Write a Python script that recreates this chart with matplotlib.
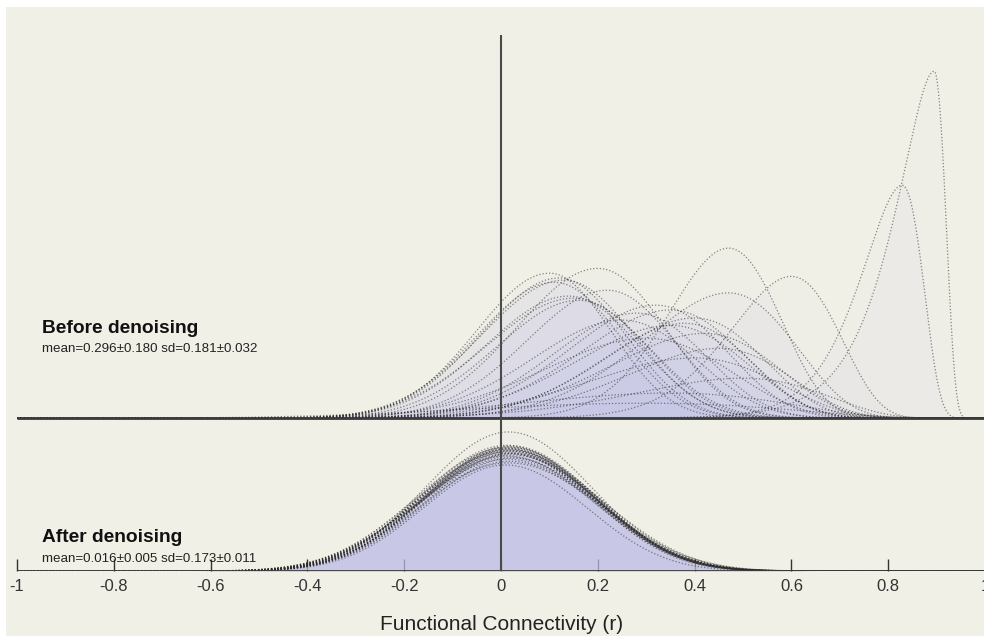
import numpy as np
import matplotlib
matplotlib.use("Agg")
import matplotlib.pyplot as plt

plt.rcParams["font.family"] = ["Liberation Sans", "DejaVu Sans"]

# Per-subject connectivity distributions: peak r, spread (Fisher z) left/right of peak, peak height
before_peak_r = [0.895, 0.829, 0.47, 0.60, 0.47, 0.20, 0.12, 0.13, 0.11, 0.14,
                 0.15, 0.16, 0.32, 0.35, 0.28, 0.40, 0.38, 0.25, 0.35, 0.42,
                 0.30, 0.45, 0.40, 0.50, 0.35, 0.30, 0.22, 0.10]
before_sd_left = [0.30, 0.226, 0.15, 0.18, 0.21, 0.17, 0.16, 0.17, 0.16, 0.17,
                  0.18, 0.17, 0.19, 0.20, 0.18, 0.20, 0.19, 0.19, 0.21, 0.22,
                  0.22, 0.22, 0.24, 0.27, 0.32, 0.37, 0.17, 0.15]
before_sd_right = [0.132, 0.154, 0.145, 0.17, 0.19, 0.15, 0.14, 0.15, 0.14, 0.15,
                   0.16, 0.15, 0.17, 0.18, 0.16, 0.18, 0.17, 0.17, 0.19, 0.20,
                   0.20, 0.20, 0.22, 0.25, 0.30, 0.35, 0.15, 0.13]
before_height = [6.51, 4.37, 3.19, 2.66, 2.35, 2.81, 2.63, 2.59, 2.55, 2.29,
                 2.25, 2.21, 2.12, 2.03, 1.97, 1.88, 1.78, 1.84, 1.74, 1.59,
                 1.50, 1.31, 1.13, 0.75, 0.47, 0.28, 2.40, 2.72]

after_peak_r = [0.016, 0.012, 0.020, 0.015, 0.018, 0.010, 0.022, 0.014, 0.017, 0.019,
                0.013, 0.021, 0.016, 0.011, 0.024, 0.015, 0.018, 0.020, 0.012, 0.017,
                0.023, 0.014, 0.019, 0.016, 0.009]
after_sd = [0.172, 0.178, 0.176, 0.181, 0.174, 0.184, 0.177, 0.180, 0.175, 0.186,
            0.182, 0.179, 0.173, 0.188, 0.176, 0.183, 0.178, 0.191, 0.180, 0.185,
            0.177, 0.189, 0.182, 0.194, 0.168]
after_height = [2.61, 2.36, 2.35, 2.33, 2.33, 2.31, 2.31, 2.29, 2.29, 2.27,
                2.27, 2.25, 2.25, 2.23, 2.21, 2.21, 2.20, 2.18, 2.16, 2.14,
                2.12, 2.10, 2.06, 2.03, 1.99]

before_label = "Before denoising"
before_stats = "mean=0.296\u00b10.180 sd=0.181\u00b10.032"
after_label = "After denoising"
after_stats = "mean=0.016\u00b10.005 sd=0.173\u00b10.011"
xticks = [-1, -0.8, -0.6, -0.4, -0.2, 0, 0.2, 0.4, 0.6, 0.8, 1]
xticklabels = ["-1", "-0.8", "-0.6", "-0.4", "-0.2", "0", "0.2", "0.4", "0.6", "0.8", "1"]

BG = "#F1F0E6"
FILL = (0.76, 0.76, 0.90)
LINE = "#2b2b2b"
TOP_BASE = 2.87      # vertical offset of the "before" panel
YMAX = 10.06

W, H = 984, 636
fig = plt.figure(figsize=(W / 100, H / 100), dpi=100)
fig.patch.set_facecolor("white")

# beige canvas (thin white margin left/top like the original screenshot)
bg = fig.add_axes([6 / W, 0, 1 - 6 / W, 1 - 7 / H])
bg.set_facecolor(BG)
bg.set_xticks([])
bg.set_yticks([])
for s in bg.spines.values():
    s.set_visible(False)

ax = fig.add_axes([17 / W, 65 / H, 968 / W, 536 / H])
ax.patch.set_alpha(0)
ax.set_xlim(-1, 1)
ax.set_ylim(0, YMAX)

r = np.linspace(-0.999, 0.999, 1600)
z = np.arctanh(r)


def draw_set(peaks, sd_left, sd_right, heights, base):
    for m, sl, sr, h in zip(peaks, sd_left, sd_right, heights):
        d = z - np.arctanh(m)
        s = np.where(d < 0, sl, sr)
        y = h * np.exp(-0.5 * (d / s) ** 2)
        ax.fill_between(r, base, base + y, color=FILL, alpha=0.05, lw=0, zorder=1)
        ax.plot(r, base + y, color=LINE, alpha=0.55, lw=0.9, ls=(0, (1, 1.6)), zorder=2)


draw_set(before_peak_r, before_sd_left, before_sd_right, before_height, TOP_BASE)
draw_set(after_peak_r, after_sd, after_sd, after_height, 0)

# baselines and zero line
ax.plot([-1, 1], [0, 0], color="#3a3a3a", lw=2, zorder=4, solid_capstyle="butt")
ax.plot([-1, 1], [TOP_BASE, TOP_BASE], color="#3a3a3a", lw=2, zorder=4, solid_capstyle="butt")
ax.plot([0, 0], [0, YMAX], color="#4a4a4a", lw=1.5, zorder=5)

ax.set_axisbelow(True)
for s in ax.spines.values():
    s.set_visible(False)
ax.set_yticks([])
ax.set_xticks(xticks)
ax.set_xticklabels(xticklabels)
ax.tick_params(axis="x", direction="in", length=9, width=1, color="#333333",
               labelsize=12, labelcolor="#333333", pad=5.5)

fig.text(502 / W, 1 - 625 / H, "Functional Connectivity (r)", ha="center", va="center",
         fontsize=15, color="#222222")

fig.text(42 / W, 1 - 333 / H, before_label, fontsize=13.8, fontweight="bold",
         ha="left", va="baseline", color="#111111")
fig.text(42 / W, 1 - 352.5 / H, before_stats, fontsize=9.6,
         ha="left", va="baseline", color="#222222")
fig.text(42 / W, 1 - 541.7 / H, after_label, fontsize=13.8, fontweight="bold",
         ha="left", va="baseline", color="#111111")
fig.text(42 / W, 1 - 561.5 / H, after_stats, fontsize=9.6,
         ha="left", va="baseline", color="#222222")

fig.savefig("out.png", dpi=100, facecolor=fig.get_facecolor())
